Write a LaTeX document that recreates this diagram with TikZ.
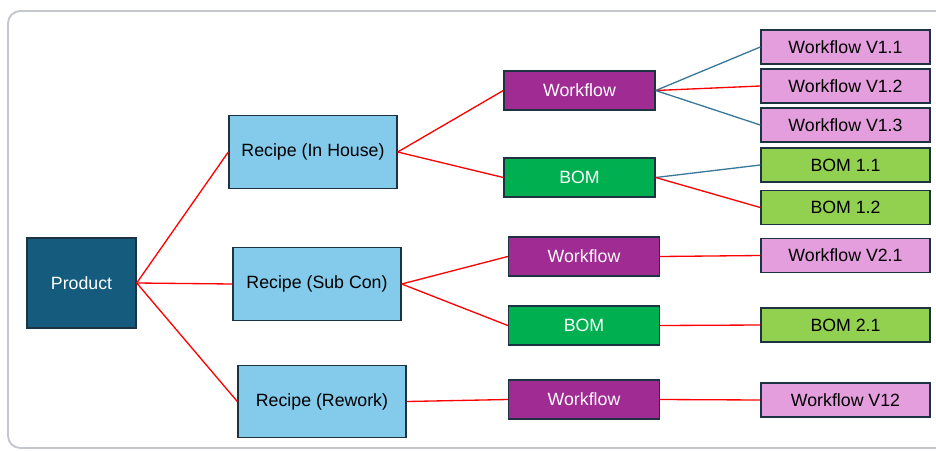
\documentclass[tikz,border=0pt]{standalone}
\usepackage{fontspec}
\setmainfont{Liberation Sans}
\usepackage{tikz}

\definecolor{prodblue}{HTML}{145B7D}
\definecolor{recblue}{HTML}{83CAEB}
\definecolor{wfpurple}{HTML}{A02B93}
\definecolor{bomgreen}{HTML}{00B050}
\definecolor{verpink}{HTML}{E59EDD}
\definecolor{verlime}{HTML}{92D050}
\definecolor{boxline}{HTML}{1E3342}
\definecolor{linkblue}{HTML}{3A7899}
\definecolor{framegray}{HTML}{C4C8CC}

\tikzset{
  box/.style={draw=boxline, line width=0.8pt, font=\fontsize{10.1}{12}\selectfont, inner sep=0pt},
  prodbox/.style={box, fill=prodblue, text=white, minimum width=2.18cm, minimum height=1.8cm},
  recbox/.style={box, fill=recblue, text=black, minimum width=3.36cm, minimum height=1.45cm},
  wfbox/.style={box, fill=wfpurple, text=white, minimum width=3.02cm, minimum height=0.78cm},
  bombox/.style={box, fill=bomgreen, text=white, minimum width=3.02cm, minimum height=0.78cm},
  wfver/.style={box, fill=verpink, text=black, minimum width=3.38cm, minimum height=0.68cm},
  bomver/.style={box, fill=verlime, text=black, minimum width=3.38cm, minimum height=0.68cm},
  redlink/.style={draw=red, line width=0.75pt},
  bluelink/.style={draw=linkblue, line width=0.75pt}
}

\begin{document}
\begin{tikzpicture}[x=0.02cm, y=-0.02cm]
\useasboundingbox (0,0) rectangle (936,450);
\draw[framegray, line width=1.1pt, rounded corners=7pt] (960,11) -- (8,11) -- (8,448) -- (960,448);

\node[prodbox] (product) at (81.5,283) {Product};

\node[recbox] (inhouse) at (313,152) {Recipe (In House)};
\node[recbox] (subcon) at (317,284) {Recipe (Sub Con)};
\node[recbox] (rework) at (322,401.5) {Recipe (Rework)};

\node[wfbox] (wfa) at (579.5,90.5) {Workflow};
\node[bombox] (boma) at (579.5,177.5) {BOM};
\node[wfbox] (wfb) at (584,256.5) {Workflow};
\node[bombox] (bomb) at (584,325.5) {BOM};
\node[wfbox] (wfc) at (584,399.5) {Workflow};

\node[wfver] (va1) at (845.5,47) {Workflow V1.1};
\node[wfver] (va2) at (845.5,86) {Workflow V1.2};
\node[wfver] (va3) at (845.5,125) {Workflow V1.3};
\node[bomver] (ba1) at (845.5,165) {BOM 1.1};
\node[bomver] (ba2) at (845.5,207.5) {BOM 1.2};
\node[wfver] (vb1) at (845.5,255.5) {Workflow V2.1};
\node[bomver] (bb1) at (845.5,325) {BOM 2.1};
\node[wfver] (vc1) at (845.5,400) {Workflow V12};

\draw[redlink] (product.east) -- (inhouse.west);
\draw[redlink] (product.east) -- (subcon.west);
\draw[redlink] (product.east) -- (rework.west);

\draw[redlink] (inhouse.east) -- (wfa.west);
\draw[redlink] (inhouse.east) -- (boma.west);
\draw[redlink] (subcon.east) -- (wfb.west);
\draw[redlink] (subcon.east) -- (bomb.west);
\draw[redlink] (rework.east) -- (wfc.west);

\draw[bluelink] (wfa.east) -- (va1.west);
\draw[redlink] (wfa.east) -- (va2.west);
\draw[bluelink] (wfa.east) -- (va3.west);
\draw[bluelink] (boma.east) -- (ba1.west);
\draw[redlink] (boma.east) -- (ba2.west);
\draw[redlink] (wfb.east) -- (vb1.west);
\draw[redlink] (bomb.east) -- (bb1.west);
\draw[redlink] (wfc.east) -- (vc1.west);
\end{tikzpicture}
\end{document}
